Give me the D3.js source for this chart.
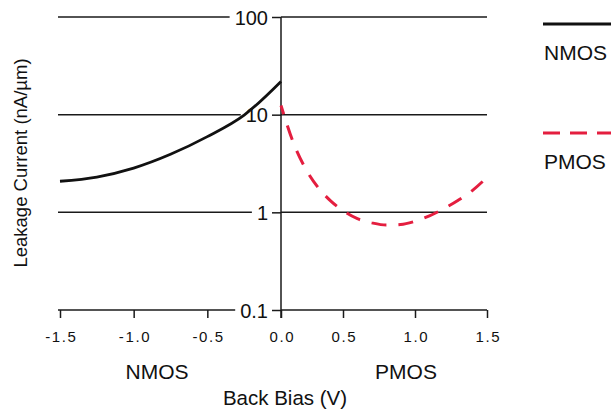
<!DOCTYPE html>
<html>
<head>
<meta charset="utf-8">
<script src="https://cdn.jsdelivr.net/npm/d3@7"></script>
<style>
  body { margin: 0; background: #fff; }
  text { font-family: "Liberation Sans", Arial, Helvetica, sans-serif; fill: #111; }
</style>
</head>
<body>
<svg></svg>
<script>
const seriesNames = ['NMOS', 'PMOS']
const xTicks = [-1.5, -1.0, -0.5, 0.0, 0.5, 1.0, 1.5]
const yTicks = [0.1, 1, 10, 100]

const nmosBias = [-1.5, -1.25, -1.0, -0.75, -0.5, -0.25, 0]
const nmosLeak = [2.08, 2.3, 2.84, 3.93, 5.96, 9.9, 21.9]

const pmosBias = [0, 0.1, 0.2, 0.3, 0.4, 0.5, 0.6, 0.7, 0.8, 0.9, 1.0, 1.1, 1.2, 1.3, 1.4, 1.5]
const pmosLeak = [12.4, 5.15, 2.77, 1.79, 1.31, 1.04, 0.86, 0.78, 0.74, 0.75, 0.81, 0.92, 1.09, 1.33, 1.68, 2.28]

const red = '#e41e3f'
const svg = d3.select('svg').attr('width', 611).attr('height', 411)

// the printed axis puts 0.5 a little closer to 0 than the other steps
const x = d3.scaleLinear()
  .domain([-1.5, 0, 0.5, 1.5])
  .range([60, 281, 343, 487])

const y = d3.scaleLog()
  .domain([0.1, 100])
  .range([310, 17])

const x0 = x(0)
const translate = (a, b) => `translate(${a}, ${b})`

// y axis with labels left of the zero line
const yAxis = svg.append('g')
  .attr('transform', translate(x0, 0))
  .call(d3.axisLeft(y).tickValues(yTicks).tickFormat(d => String(d)).tickSize(9).tickPadding(4))
yAxis.select('.domain').remove()
yAxis.selectAll('line').attr('stroke', '#1a1a1a').attr('stroke-width', 1.5)
yAxis.selectAll('text').style('font-size', '20px').attr('dy', '0.36em').attr('font-family', null)

const labelWidth = {}
yAxis.selectAll('text').each(function (d) { labelWidth[d] = this.getComputedTextLength() })

// horizontal grid lines
svg.append('g').selectAll('line').data(yTicks).enter().append('line')
  .attr('x1', x0).attr('x2', x(1.5))
  .attr('y1', d => y(d)).attr('y2', d => y(d))
  .attr('stroke', '#1a1a1a').attr('stroke-width', 1.5)

svg.append('g').selectAll('line').data(yTicks).enter().append('line')
  .attr('x1', x(-1.5) - 2)
  .attr('x2', d => x0 - 13 - labelWidth[d] - 5)
  .attr('y1', d => y(d)).attr('y2', d => y(d))
  .attr('stroke', '#1a1a1a').attr('stroke-width', 1.5)

svg.append('line')
  .attr('x1', x0).attr('x2', x0)
  .attr('y1', y(100)).attr('y2', y(0.1) + 8)
  .attr('stroke', '#1a1a1a').attr('stroke-width', 1.5)

// x axis
const xAxis = svg.append('g')
  .attr('transform', translate(0, y(0.1)))
  .call(d3.axisBottom(x).tickValues(xTicks).tickFormat(d => d.toFixed(1)).tickSize(8))
xAxis.select('.domain').remove()
xAxis.selectAll('line').attr('stroke', '#1a1a1a').attr('stroke-width', 1.5)
xAxis.selectAll('text')
  .attr('y', 21).attr('dx', 0.8)
  .style('font-size', '15px').style('letter-spacing', '1.6px')
  .attr('font-family', null)

// curves
const nmos = nmosBias.map((b, i) => ({bias: b, leak: nmosLeak[i]}))
const pmos = pmosBias.map((b, i) => ({bias: b, leak: pmosLeak[i]}))

const line = d3.line()
  .x(d => x(d.bias))
  .y(d => y(d.leak))
  .curve(d3.curveMonotoneX)

svg.append('path').datum(nmos)
  .attr('d', line)
  .attr('fill', 'none').attr('stroke', '#111').attr('stroke-width', 2.8)

svg.append('path').datum(pmos)
  .attr('d', line)
  .attr('fill', 'none').attr('stroke', red).attr('stroke-width', 3)
  .attr('stroke-dasharray', '15,12').attr('stroke-dashoffset', 6)

// axis titles
svg.append('text')
  .attr('transform', 'translate(27, 163) rotate(-90)')
  .attr('text-anchor', 'middle')
  .style('font-size', '18.5px')
  .text('Leakage Current (nA/µm)')

svg.append('text')
  .attr('x', 157).attr('y', 379)
  .attr('text-anchor', 'middle').style('font-size', '21px')
  .text(seriesNames[0])

svg.append('text')
  .attr('x', 406).attr('y', 379)
  .attr('text-anchor', 'middle').style('font-size', '21px')
  .text(seriesNames[1])

svg.append('text')
  .attr('x', 285).attr('y', 405)
  .attr('text-anchor', 'middle').style('font-size', '20.5px')
  .text('Back Bias (V)')

// legend
const legend = svg.append('g').selectAll('g').data(seriesNames).enter().append('g')
  .attr('transform', (d, i) => translate(543, 24 + i * 109))

legend.append('line')
  .attr('x1', 0).attr('x2', 70)
  .attr('stroke', (d, i) => i === 0 ? '#111' : red)
  .attr('stroke-width', 3)
  .attr('stroke-dasharray', (d, i) => i === 0 ? null : '17,10')

legend.append('text')
  .attr('x', 1).attr('y', 36)
  .style('font-size', '21px')
  .text(d => d)
</script>
</body>
</html>
